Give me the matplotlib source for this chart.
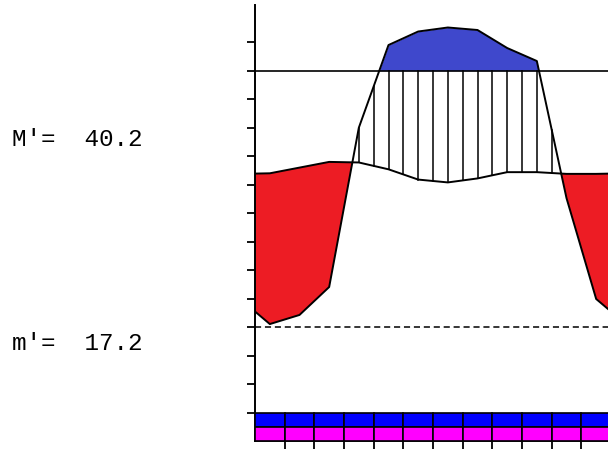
import numpy as np
import matplotlib
matplotlib.use("Agg")
import matplotlib.pyplot as plt

# Monthly climate normals (Jan..Dec)
temperature = [32.0, 33.0, 34.0, 33.9, 32.7, 30.9, 30.4, 31.1, 32.2, 32.2, 31.9, 31.9]   # deg C
precipitation = [11.1, 14.3, 24.1, 80.0, 190.0, 237.5, 251.6, 242.8, 179.6, 134.0, 55.3, 19.9]  # mm
max_warmest = 40.2   # M'
min_coldest = 17.2   # m'
dashed_level = 5.0

RED = "#ED1C24"
BLUE_FILL = "#3F48CC"
STRIP_BLUE = "#0000FF"
STRIP_MAGENTA = "#FF00FF"


def precip_scale(p):
    """Walter-Lieth scale: 10 C = 20 mm, compressed 1:10 above 100 mm."""
    p = np.asarray(p, dtype=float)
    return np.where(p <= 100, p / 2.0, 50.0 + (p - 100.0) / 20.0)


# month centres plus the year boundaries (mean of Dec and Jan)
xs = np.concatenate([[0.0], np.arange(12) + 0.5, [12.0]])
t_plot = np.array(temperature, dtype=float)
t_plot = np.concatenate([[(t_plot[0] + t_plot[-1]) / 2], t_plot, [(t_plot[0] + t_plot[-1]) / 2]])
p_mon = precip_scale(precipitation)
p_plot = np.concatenate([[(p_mon[0] + p_mon[-1]) / 2], p_mon, [(p_mon[0] + p_mon[-1]) / 2]])

W, H = 608, 450
fig = plt.figure(figsize=(W / 100, H / 100), dpi=100)
fig.patch.set_facecolor("white")

# axes: x 0..12 spans 255..611 px (right edge runs off the canvas)
y_top = 50 + 70.7 / 5.7
y_bot = -15.0
bottom_px = 70.7 + (50 - y_bot) * 5.7
ax = fig.add_axes([255 / W, 1 - bottom_px / H, 356 / W, bottom_px / H])
ax.set_xlim(0, 12)
ax.set_ylim(y_bot, y_top)
ax.set_facecolor("white")

for s in ("top", "right"):
    ax.spines[s].set_visible(False)
ax.spines["left"].set_bounds(y_bot, 61.5)
ax.spines["left"].set_linewidth(1.4)
ax.spines["bottom"].set_linewidth(1.4)
ax.set_yticks(np.arange(-10, 56, 5))
ax.set_xticks(np.arange(1, 12))
ax.tick_params(axis="both", direction="out", length=6, width=1.3,
               labelleft=False, labelbottom=False)

# fills
xf = np.linspace(0, 12, 4801)
tf = np.interp(xf, xs, t_plot)
pf = np.interp(xf, xs, p_plot)
ax.fill_between(xf, pf, tf, where=pf < tf, interpolate=True, color=RED, lw=0, zorder=1)
ax.fill_between(xf, 50, pf, where=pf > 50, interpolate=True, color=BLUE_FILL, lw=0, zorder=1)

# humid period: vertical hatch every half month
for xh in np.arange(0, 12.01, 0.5):
    th = np.interp(xh, xs, t_plot)
    ph = np.interp(xh, xs, p_plot)
    if ph > th:
        ax.plot([xh, xh], [th, min(ph, 50)], color="black", lw=1.1, zorder=2)

# reference lines
ax.axhline(50, color="black", lw=1.2, zorder=3)
ax.axhline(dashed_level, color="black", lw=1.1, ls=(0, (4, 2.5)), zorder=3)

# curves
ax.plot(xs, t_plot, color="black", lw=1.4, zorder=4)
ax.plot(xs, p_plot, color="black", lw=1.4, zorder=4)

# frost strips under each month
months = np.arange(12) + 0.5
ax.bar(months, 2.5, bottom=-12.5, width=1.0, color=STRIP_BLUE,
       edgecolor="black", linewidth=1.2, zorder=3)
ax.bar(months, 2.5, bottom=-15.0, width=1.0, color=STRIP_MAGENTA,
       edgecolor="black", linewidth=1.2, zorder=3)

# extreme temperatures in the left margin
mono = ["Liberation Mono", "DejaVu Sans Mono"]
fig.text(12 / W, 1 - 139 / H, f"M'=  {max_warmest:.1f}", family=mono,
         fontsize=17.5, va="center", ha="left", color="black")
fig.text(12 / W, 1 - 344 / H, f"m'=  {min_coldest:.1f}", family=mono,
         fontsize=17.5, va="center", ha="left", color="black")

fig.savefig("out.png", dpi=100, facecolor="white")
